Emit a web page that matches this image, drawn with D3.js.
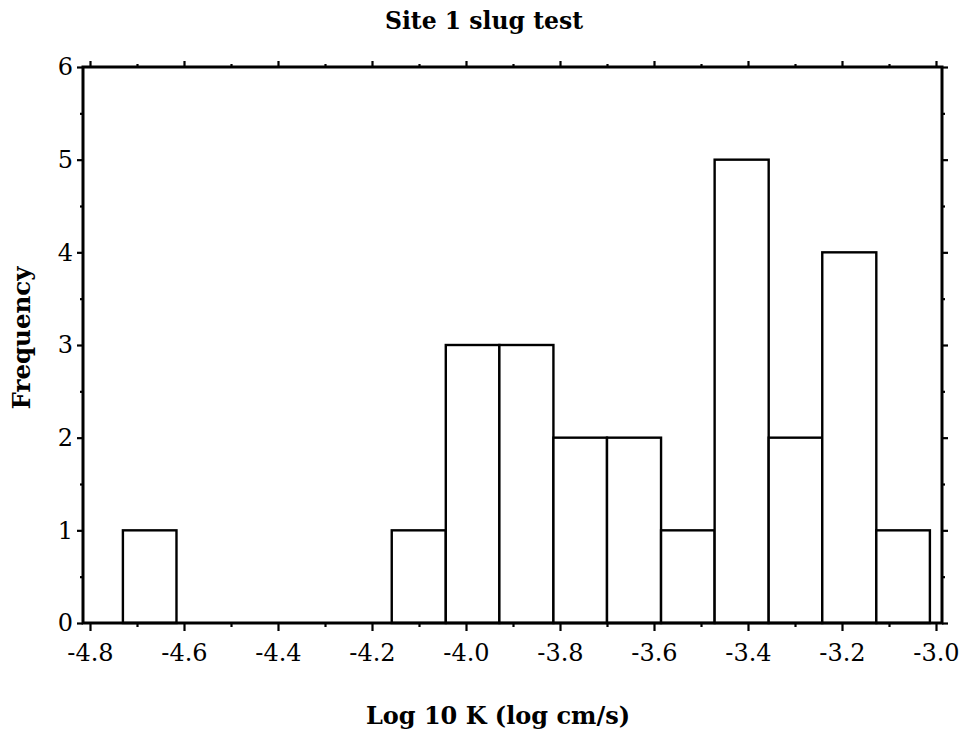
<!DOCTYPE html>
<html>
<head>
<meta charset="utf-8">
<script src="https://cdn.jsdelivr.net/npm/d3@7"></script>
<style>
  html, body { margin: 0; padding: 0; background: #fff; }
  svg { display: block; }
  text { fill: #000; }
</style>
</head>
<body>
<svg id="chart" width="962" height="745"></svg>
<script>
// ---- data ----
const binEdges = [-4.730, -4.616, -4.501, -4.387, -4.272, -4.158, -4.043, -3.929,
                  -3.814, -3.700, -3.585, -3.471, -3.356, -3.242, -3.127, -3.013];
const binCounts = [1, 0, 0, 0, 0, 1, 3, 3, 2, 2, 1, 5, 2, 4, 1];
const xMajorTicks = [-4.8, -4.6, -4.4, -4.2, -4.0, -3.8, -3.6, -3.4, -3.2, -3.0];
const xMinorTicks = [-4.7, -4.5, -4.3, -4.1, -3.9, -3.7, -3.5, -3.3, -3.1];
const yMajorTicks = [0, 1, 2, 3, 4, 5, 6];
const yMinorTicks = [0.5, 1.5, 2.5, 3.5, 4.5, 5.5];
const titleText = "Site 1 slug test";
const xLabelText = "Log 10 K (log cm/s)";
const yLabelText = "Frequency";

// ---- layout ----
const frame = { left: 83, right: 942, top: 67, bottom: 623 };
const svg = d3.select("#chart");
const serif = "'DejaVu Serif', 'Liberation Serif', serif";

const x = d3.scaleLinear().domain([-4.8, -3.0]).range([90, 936]);
const y = d3.scaleLinear().domain([0, 6]).range([frame.bottom, frame.top]);

// bars
const bins = binCounts.map((c, i) => ({ x0: binEdges[i], x1: binEdges[i + 1], count: c }));
svg.append("g").selectAll("rect")
  .data(bins.filter(d => d.count > 0))
  .join("rect")
  .attr("x", d => x(d.x0))
  .attr("y", d => y(d.count))
  .attr("width", d => x(d.x1) - x(d.x0))
  .attr("height", d => y(0) - y(d.count))
  .attr("fill", "#fff")
  .attr("stroke", "#000")
  .attr("stroke-width", 2.4);

// axes helpers
function styleAxis(g, showLabels, fontSize) {
  g.select(".domain").remove();
  g.selectAll(".tick line").attr("stroke", "#000").attr("stroke-width", 2.2);
  if (!showLabels) g.selectAll(".tick text").remove();
  else g.selectAll(".tick text")
        .attr("font-family", serif)
        .attr("font-size", fontSize)
        .attr("fill", "#000");
}
const fmtX = d => d3.format(".1f")(d).replace("\u2212", "-");

// bottom
svg.append("g").attr("transform", `translate(0,${frame.bottom})`)
  .call(d3.axisBottom(x).tickValues(xMajorTicks).tickSize(8).tickPadding(13)
        .tickFormat(fmtX))
  .call(g => styleAxis(g, true, 24));
svg.append("g").attr("transform", `translate(0,${frame.bottom})`)
  .call(d3.axisBottom(x).tickValues(xMinorTicks).tickSize(4))
  .call(g => styleAxis(g, false));
// top
svg.append("g").attr("transform", `translate(0,${frame.top})`)
  .call(d3.axisTop(x).tickValues(xMajorTicks).tickSize(6))
  .call(g => styleAxis(g, false));
svg.append("g").attr("transform", `translate(0,${frame.top})`)
  .call(d3.axisTop(x).tickValues(xMinorTicks).tickSize(3))
  .call(g => styleAxis(g, false));
// left
svg.append("g").attr("transform", `translate(${frame.left},0)`)
  .call(d3.axisLeft(y).tickValues(yMajorTicks).tickSize(6).tickPadding(4)
        .tickFormat(d3.format("d")))
  .call(g => styleAxis(g, true, 24));
svg.append("g").attr("transform", `translate(${frame.left},0)`)
  .call(d3.axisLeft(y).tickValues(yMinorTicks).tickSize(3))
  .call(g => styleAxis(g, false));
// right
svg.append("g").attr("transform", `translate(${frame.right},0)`)
  .call(d3.axisRight(y).tickValues(yMajorTicks).tickSize(6))
  .call(g => styleAxis(g, false));
svg.append("g").attr("transform", `translate(${frame.right},0)`)
  .call(d3.axisRight(y).tickValues(yMinorTicks).tickSize(3))
  .call(g => styleAxis(g, false));

// frame
svg.append("rect")
  .attr("x", frame.left).attr("y", frame.top)
  .attr("width", frame.right - frame.left)
  .attr("height", frame.bottom - frame.top)
  .attr("fill", "none").attr("stroke", "#000").attr("stroke-width", 3);

// title & labels
svg.append("text")
  .attr("x", 484).attr("y", 29)
  .attr("text-anchor", "middle")
  .attr("font-family", serif).attr("font-weight", "bold").attr("font-size", 23.5)
  .text(titleText);

svg.append("text")
  .attr("x", 498).attr("y", 724)
  .attr("text-anchor", "middle")
  .attr("font-family", serif).attr("font-weight", "bold").attr("font-size", 24)
  .text(xLabelText);

svg.append("text")
  .attr("transform", "translate(30,338) rotate(-90)")
  .attr("text-anchor", "middle")
  .attr("font-family", serif).attr("font-weight", "bold").attr("font-size", 24.5)
  .text(yLabelText);
</script>
</body>
</html>
